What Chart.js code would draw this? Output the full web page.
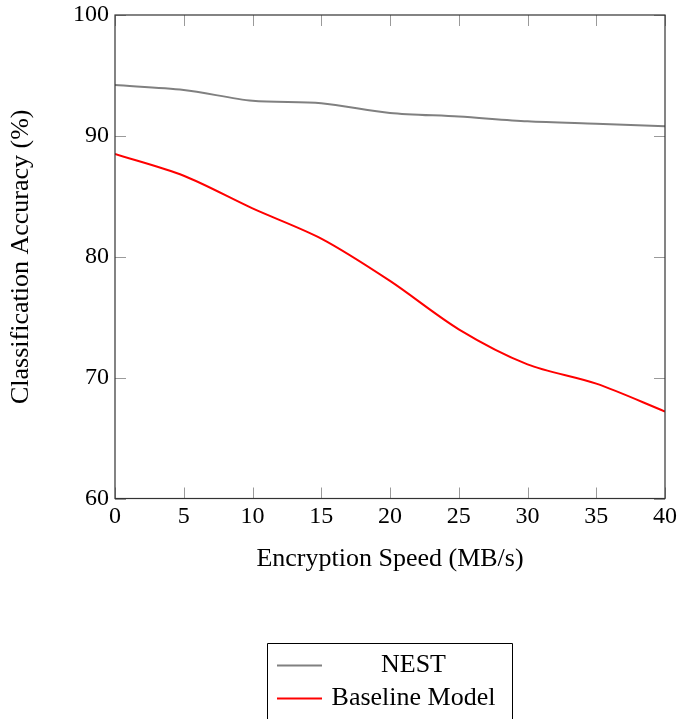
<!DOCTYPE html>
<html>
<head>
<meta charset="utf-8">
<script src="https://cdn.jsdelivr.net/npm/chart.js@4"></script>
<style>
  html, body { margin: 0; padding: 0; background: #ffffff; }
  #wrap { width: 677px; height: 719px; }
</style>
</head>
<body>
<div id="wrap"><canvas id="c" width="677" height="719"></canvas></div>
<script>
// ---- data ----
const speeds = [0, 5, 10, 15, 20, 25, 30, 35, 40];
const nestAcc = [94.2, 93.8, 92.9, 92.7, 91.9, 91.6, 91.2, 91.0, 90.8];
const baselineAcc = [88.5, 86.7, 84.0, 81.5, 78.0, 74.0, 71.1, 69.5, 67.2];
const seriesNames = ['NEST', 'Baseline Model'];
const xTickValues = [0, 5, 10, 15, 20, 25, 30, 35, 40];
const yTickValues = [60, 70, 80, 90, 100];

const SERIF = '"Liberation Serif", "Times New Roman", serif';

function toPoints(xs, ys) { return xs.map((x, i) => ({ x: x, y: ys[i] })); }

const framePlugin = {
  id: 'frame',
  afterDraw(chart) {
    const ctx = chart.ctx;
    const a = chart.chartArea;
    const xs = chart.scales.x, ys = chart.scales.y;
    const L = 11;
    ctx.save();
    // inward ticks
    ctx.strokeStyle = '#9a9a9a';
    ctx.lineWidth = 1;
    ctx.beginPath();
    xTickValues.forEach(v => {
      const px = Math.round(xs.getPixelForValue(v)) + 0.5;
      ctx.moveTo(px, a.bottom); ctx.lineTo(px, a.bottom - L);
      ctx.moveTo(px, a.top); ctx.lineTo(px, a.top + L);
    });
    yTickValues.forEach(v => {
      const py = Math.round(ys.getPixelForValue(v)) + 0.5;
      ctx.moveTo(a.left, py); ctx.lineTo(a.left + L, py);
      ctx.moveTo(a.right, py); ctx.lineTo(a.right - L, py);
    });
    ctx.stroke();
    // frame
    ctx.strokeStyle = '#333333';
    ctx.lineWidth = 1.2;
    ctx.strokeRect(a.left, a.top, a.right - a.left, a.bottom - a.top);
    ctx.restore();
  }
};

const legendBoxPlugin = {
  id: 'legendBox',
  afterDraw(chart) {
    const ctx = chart.ctx;
    const ds = chart.data.datasets;
    const boxL = 267.5, boxR = 512.5, boxT = 643.5;
    const rowY = [665.5, 698.5];
    ctx.save();
    ctx.strokeStyle = '#000000';
    ctx.lineWidth = 1;
    ctx.beginPath();
    ctx.moveTo(boxL, 740); ctx.lineTo(boxL, boxT); ctx.lineTo(boxR, boxT); ctx.lineTo(boxR, 740);
    ctx.stroke();
    ctx.font = '26px ' + SERIF;
    ctx.fillStyle = '#000000';
    ctx.textAlign = 'center';
    ctx.textBaseline = 'middle';
    ds.forEach((d, i) => {
      ctx.strokeStyle = d.borderColor;
      ctx.lineWidth = 2;
      ctx.beginPath();
      ctx.moveTo(277, rowY[i]); ctx.lineTo(322, rowY[i]);
      ctx.stroke();
      ctx.fillText(d.label, 413.5, rowY[i] - 0.5);
    });
    ctx.restore();
  }
};

new Chart(document.getElementById('c'), {
  type: 'line',
  data: {
    datasets: [
      { label: seriesNames[0], data: toPoints(speeds, nestAcc), borderColor: '#808080', borderWidth: 2, pointRadius: 0, tension: 0.3, fill: false },
      { label: seriesNames[1], data: toPoints(speeds, baselineAcc), borderColor: '#ff0000', borderWidth: 2, pointRadius: 0, tension: 0.3, fill: false }
    ]
  },
  options: {
    responsive: false,
    animation: false,
    devicePixelRatio: 1,
    layout: { padding: { top: 15, right: 12, bottom: 144, left: 0 } },
    plugins: { legend: { display: false }, tooltip: { enabled: false } },
    scales: {
      x: {
        type: 'linear',
        min: 0, max: 40,
        grid: { display: false, drawTicks: false },
        border: { display: false },
        afterBuildTicks: s => { s.ticks = xTickValues.map(v => ({ value: v })); },
        afterFit: s => { s.height = 76.5; s.paddingLeft = 0; s.paddingRight = 0; },
        ticks: { color: '#000', padding: 4, maxRotation: 0, font: { family: SERIF, size: 24 } },
        title: { display: true, text: 'Encryption Speed (MB/s)', color: '#000', padding: { top: 0, bottom: 0 }, font: { family: SERIF, size: 26, lineHeight: 1.2 } }
      },
      y: {
        type: 'linear',
        min: 60, max: 100,
        grid: { display: false, drawTicks: false },
        border: { display: false },
        afterBuildTicks: s => { s.ticks = yTickValues.map(v => ({ value: v })); },
        afterFit: s => { s.width = 115; s.paddingTop = 0; s.paddingBottom = 0; },
        ticks: { color: '#000', padding: 6, font: { family: SERIF, size: 24 } },
        title: { display: true, text: 'Classification Accuracy (%)', color: '#000', padding: { top: 6, bottom: 0 }, font: { family: SERIF, size: 26, lineHeight: 1.2 } }
      }
    }
  },
  plugins: [framePlugin, legendBoxPlugin]
});
</script>
</body>
</html>
